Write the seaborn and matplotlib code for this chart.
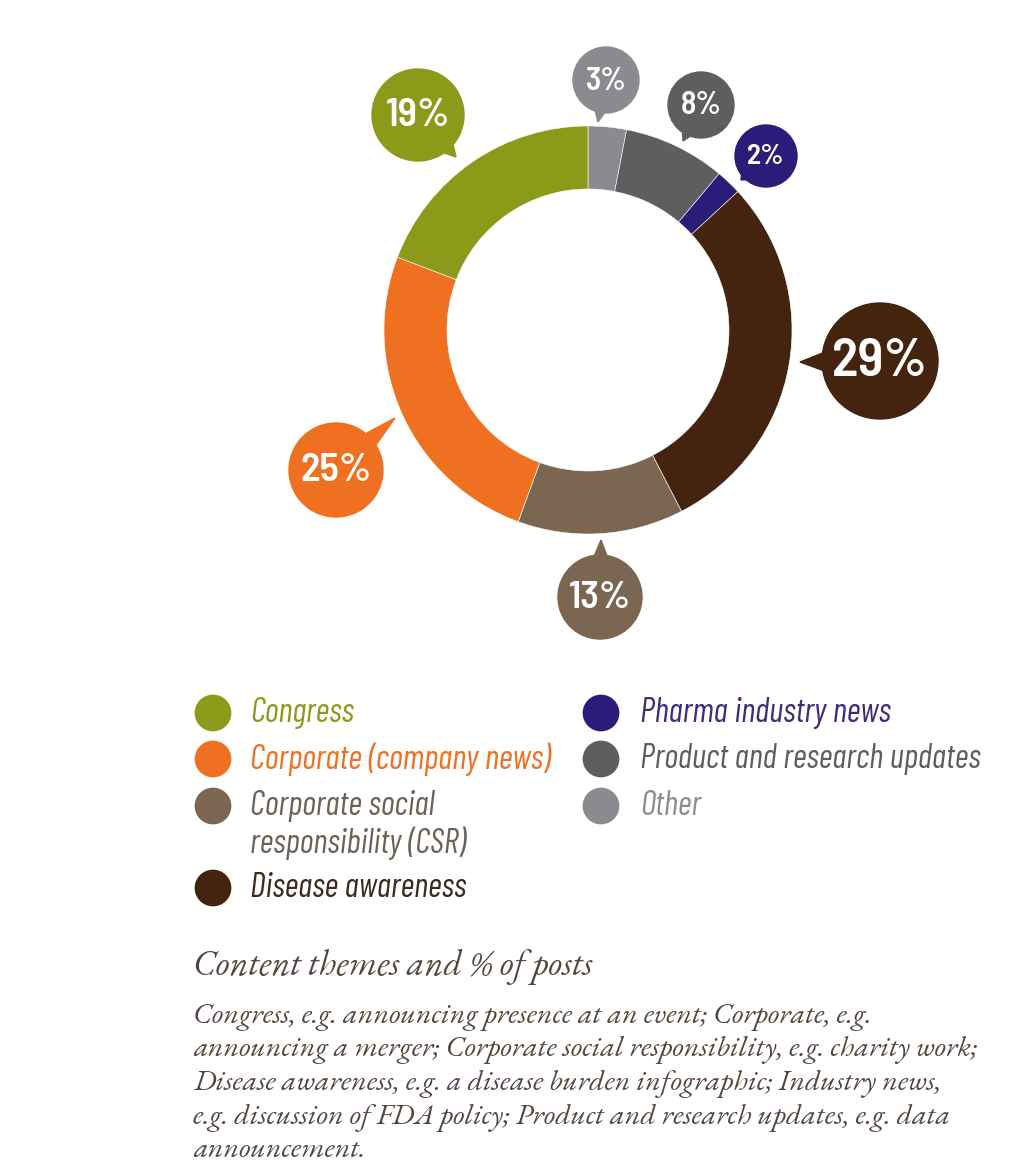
import numpy as np
import pandas as pd
import matplotlib
matplotlib.use("Agg")
import matplotlib.pyplot as plt
from matplotlib.patches import Circle, Polygon
import seaborn as sns

# ---- data ----
categories = ["Other", "Product and research updates", "Pharma industry news",
              "Disease awareness", "Corporate social responsibility (CSR)",
              "Corporate (company news)", "Congress"]
shares = [3, 8, 2, 29, 13, 25, 19]
labels = ["3%", "8%", "2%", "29%", "13%", "25%", "19%"]
colors = ["#8b8b8f", "#5e5e61", "#2a1c78", "#44230f", "#7b6652", "#ee7020", "#8b9a18"]

legend_col1 = ["Congress", "Corporate (company news)", "Corporate social\nresponsibility (CSR)", "Disease awareness"]
legend_col1_colors = ["#8b9a18", "#ee7020", "#7b6652", "#44230f"]
legend_col1_text = ["#8b9a18", "#ee7020", "#6e6258", "#3b2a20"]
legend_col2 = ["Pharma industry news", "Product and research updates", "Other"]
legend_col2_colors = ["#2a1c78", "#5e5e61", "#8b8b8f"]
legend_col2_text = ["#3a2f7c", "#5e5e61", "#8d8d8f"]

title = "Content themes and % of posts"
body_lines = [
    "Congress, e.g. announcing presence at an event; Corporate, e.g.",
    "announcing a merger; Corporate social responsibility, e.g. charity work;",
    "Disease awareness, e.g. a disease burden infographic; Industry news,",
    "e.g. discussion of FDA policy; Product and research updates, e.g. data",
    "announcement.",
]

# ---- figure ----
sns.set_theme(style="white")
plt.rcParams['font.family'] = ['DejaVu Sans']
BUBBLE_FONT = ['Barlow Semi Condensed', 'Roboto Condensed', 'DejaVu Sans']
LEGEND_FONT = ['Barlow Condensed', 'Roboto Condensed', 'DejaVu Sans']
SERIF = ['EB Garamond', 'Cormorant Garamond', 'Liberation Serif', 'DejaVu Serif']

W, H = 1036, 1176
fig = plt.figure(figsize=(W / 100, H / 100), dpi=100)
ax = fig.add_axes([0, 0, 1, 1])

def Y(y):
    return H - y

cx, cy = 588, Y(330)
R = 204
ax.pie(shares, colors=colors, startangle=90, counterclock=False,
       radius=R, center=(cx, cy),
       wedgeprops=dict(width=63, linewidth=0.4, edgecolor="white"))
ax.set_xlim(0, W)
ax.set_ylim(0, H)
ax.set_aspect("equal")
ax.axis("off")

# speech bubbles: (center x, center y, radius, tip x, tip y, fontsize)
bubbles = [
    (606, 80, 33, 598, 122, 23),
    (701, 105, 33, 683, 141, 23),
    (766, 156, 31, 741, 180, 21),
    (880, 361, 58, 800, 362, 39),
    (600, 597, 42, 601, 540, 28),
    (336, 470, 47, 395, 418, 29),
    (418, 115, 46, 456, 157, 29),
]
for (bx, by, br, tx, ty, fs), lab, col in zip(bubbles, labels, colors):
    ax.add_patch(Circle((bx, Y(by)), br, color=col, zorder=3))
    ang = np.arctan2(Y(ty) - Y(by), tx - bx)
    d = 0.2
    p1 = (bx + br * 0.92 * np.cos(ang - d), Y(by) + br * 0.92 * np.sin(ang - d))
    p2 = (bx + br * 0.92 * np.cos(ang + d), Y(by) + br * 0.92 * np.sin(ang + d))
    ax.add_patch(Polygon([p1, (tx, Y(ty)), p2], closed=True, color=col, zorder=3))
    ax.text(bx, Y(by) - 1, lab, color="white", fontsize=fs, fontweight="semibold",
            family=BUBBLE_FONT, ha="center", va="center", zorder=4)

# legend
leg = pd.DataFrame({
    "x": [213] * 4 + [601] * 3,
    "y": [Y(713), Y(759), Y(806), Y(888), Y(713), Y(759), Y(806)],
    "name": legend_col1 + legend_col2,
})
sns.scatterplot(data=leg, x="x", y="y", hue="name",
                palette=dict(zip(legend_col1 + legend_col2, legend_col1_colors + legend_col2_colors)),
                s=700, linewidth=0, legend=False, ax=ax)
ax.set_xlabel("")
ax.set_ylabel("")
col1_y = [713, 759, 806, 888]
for txt, yy, tc in zip(legend_col1, col1_y, legend_col1_text):
    parts = txt.split("\n")
    for k, part in enumerate(parts):
        ax.text(250, Y(yy + 37 * k), part, color=tc, fontsize=24.5, style="italic",
                family=LEGEND_FONT, va="center", ha="left")
for txt, yy, tc in zip(legend_col2, col1_y[:3], legend_col2_text):
    ax.text(640, Y(yy), txt, color=tc, fontsize=24.5, style="italic",
            family=LEGEND_FONT, va="center", ha="left")

ax.text(193, Y(967), title, color="#54463e", fontsize=26, style="italic",
        fontweight="semibold", family=SERIF, va="center", ha="left")
for i, line in enumerate(body_lines):
    ax.text(193, Y(1017 + i * 33.5), line, color="#54463e", fontsize=21.5, style="italic",
            fontweight="semibold", family=SERIF, va="center", ha="left")

fig.savefig("out.png", dpi=100, facecolor="white")
